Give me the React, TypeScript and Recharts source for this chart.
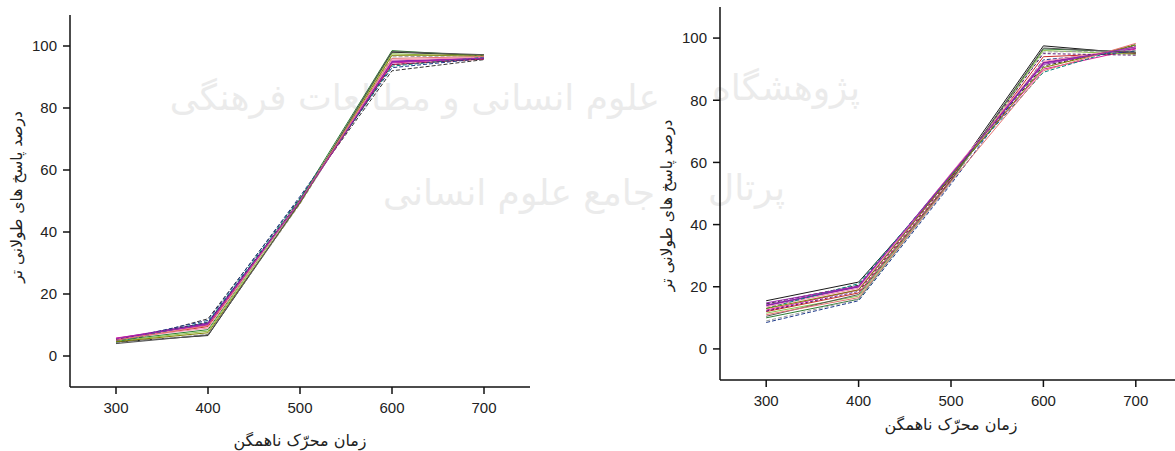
import { LineChart, Line, XAxis, YAxis, Label } from 'recharts';

const times = [300, 400, 500, 600, 700];
const xTicks = [300, 400, 500, 600, 700];
const yTicks = [0, 20, 40, 60, 80, 100];

// left panel: one array per line, values at 300..700
const leftValues = [
  [4.5, 6.6, 49.5, 98.0, 97.0],
  [5.0, 8.5, 50.5, 98.5, 96.8],
  [4.0, 12.0, 51.0, 92.0, 95.6],
  [5.5, 10.5, 50.0, 95.0, 96.0],
  [5.8, 10.0, 49.8, 94.5, 96.2],
  [5.2, 9.5, 50.2, 94.0, 95.8],
  [4.8, 8.0, 50.0, 97.5, 96.5],
  [4.2, 7.0, 49.0, 96.5, 96.9],
  [5.0, 11.5, 51.5, 93.0, 96.0],
  [5.5, 9.0, 50.0, 95.5, 96.3],
  [4.5, 11.0, 50.8, 93.5, 96.4],
  [5.3, 10.8, 50.3, 94.0, 95.9],
  [4.6, 7.5, 49.3, 97.0, 97.1],
  [4.0, 6.8, 49.6, 98.2, 97.2],
  [5.1, 9.8, 50.1, 96.0, 96.6],
  [5.6, 10.2, 49.9, 94.8, 96.1],
];

// right panel
const rightValues = [
  [15.5, 21.5, 55.0, 97.5, 95.0],
  [10.0, 16.0, 54.0, 96.5, 95.5],
  [14.5, 20.5, 56.0, 91.0, 97.5],
  [14.0, 20.0, 56.0, 92.0, 96.8],
  [12.5, 19.0, 55.5, 90.0, 96.5],
  [12.0, 18.0, 54.5, 94.0, 95.2],
  [11.5, 17.0, 54.0, 96.0, 94.8],
  [9.0, 16.0, 53.5, 95.5, 96.0],
  [8.5, 15.5, 53.0, 93.0, 95.8],
  [13.5, 19.5, 56.5, 92.5, 97.0],
  [13.0, 21.0, 55.8, 89.0, 98.0],
  [12.2, 18.5, 55.0, 95.0, 94.5],
  [13.0, 19.0, 55.5, 90.5, 97.8],
  [10.5, 17.5, 54.2, 96.8, 95.4],
  [11.0, 16.5, 53.8, 89.5, 98.3],
  [14.8, 20.2, 56.2, 91.5, 97.2],
];

const lineColors = [
  '#1a1a1a', '#2e7d32', '#333333', '#8e24aa', '#d81b9a', '#c62828',
  '#8bc34a', '#9e9e9e', '#1e3a8a', '#f48fb1', '#00897b', '#5e1a73',
  '#808000', '#555555', '#e57373', '#9c27b0',
];
const lineDashes = [
  '', '', '4 2', '', '', '', '', '4 2', '4 2', '', '4 2', '3 2', '', '', '', '',
];

const yTitle = 'درصد پاسخ های طولانی تر';
const xTitle = 'زمان محرّک ناهمگن';

const buildRows = (values: number[][]) =>
  times.map((t, i) => {
    const row: Record<string, number> = { x: t };
    values.forEach((v, j) => {
      row[`s${j}`] = v[i];
    });
    return row;
  });

const tickStyle = { fontFamily: 'Liberation Sans, Arial, sans-serif', fontSize: 15, fill: '#222' };
const axisLine = { stroke: '#111', strokeWidth: 1.5 };
const yTitleStyle = { fontFamily: 'DejaVu Sans', fontSize: 15.5, fill: '#222' };
const xTitleStyle = { fontFamily: 'DejaVu Sans', fontSize: 16, fill: '#222' };

type PanelProps = {
  values: number[][];
  width: number;
  top: number;
  right: number;
  yAxisWidth: number;
  xAxisHeight: number;
  yTitleDx: number;
  yTitleDy: number;
  xTitleDy: number;
};

const Panel = ({ values, width, top, right, yAxisWidth, xAxisHeight, yTitleDx, yTitleDy, xTitleDy }: PanelProps) => {
  const rows = buildRows(values);
  return (
    <LineChart width={width} height={451} data={rows} margin={{ top, right, bottom: 0, left: 0 }}>
      <XAxis
        dataKey="x"
        type="number"
        domain={[250, 750]}
        ticks={xTicks}
        height={xAxisHeight}
        tick={tickStyle}
        tickSize={7}
        tickMargin={8}
        axisLine={axisLine}
        tickLine={axisLine}
      >
        <Label value={xTitle} position="insideBottom" dy={xTitleDy} style={xTitleStyle} />
      </XAxis>
      <YAxis
        type="number"
        domain={[-10, 110]}
        ticks={yTicks}
        width={yAxisWidth}
        tick={tickStyle}
        tickSize={7}
        tickMargin={6}
        axisLine={axisLine}
        tickLine={axisLine}
      >
        <Label value={yTitle} angle={-90} position="center" dx={yTitleDx} dy={yTitleDy} style={yTitleStyle} />
      </YAxis>
      {values.map((_, j) => (
        <Line
          key={j}
          type="linear"
          dataKey={`s${j}`}
          stroke={lineColors[j % lineColors.length]}
          strokeWidth={j === 3 ? 1.8 : 1}
          strokeDasharray={lineDashes[j % lineDashes.length]}
          dot={false}
          isAnimationActive={false}
        />
      ))}
    </LineChart>
  );
};

const watermarkProps = { fontFamily: 'DejaVu Sans', fontSize: 36, fill: '#ebebeb' };

const App = () => {
  return (
    <div style={{ position: 'absolute', left: 0, top: 0, width: 1175, height: 451, overflow: 'hidden', background: '#fff' }}>
      <svg width={1175} height={451} style={{ position: 'absolute', left: 0, top: 0 }}>
        <text x={860} y={100} textAnchor="end" {...watermarkProps}>پژوهشگاه</text>
        <text x={660} y={110} textAnchor="end" {...watermarkProps}>علوم انسانی و مطالعات فرهنگی</text>
        <text x={785} y={200} textAnchor="end" {...watermarkProps}>پرتال</text>
        <text x={655} y={205} textAnchor="end" {...watermarkProps}>جامع علوم انسانی</text>
      </svg>
      <div style={{ position: 'absolute', left: 0, top: 0 }}>
        <Panel values={leftValues} width={560} top={15} right={30} yAxisWidth={70} xAxisHeight={64}
          yTitleDx={-19} yTitleDy={-4} xTitleDy={0} />
      </div>
      <div style={{ position: 'absolute', left: 600, top: 0 }}>
        <Panel values={rightValues} width={590} top={7} right={8} yAxisWidth={120} xAxisHeight={71}
          yTitleDx={6} yTitleDy={12} xTitleDy={-16} />
      </div>
    </div>
  );
};

export default App;
